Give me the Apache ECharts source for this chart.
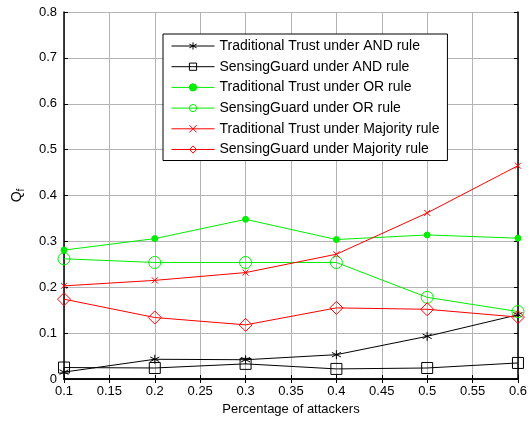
<!DOCTYPE html>
<html>
<head>
<meta charset="utf-8">
<script src="https://cdn.jsdelivr.net/npm/echarts@6/dist/echarts.min.js"></script>
<style>
  html, body { margin: 0; padding: 0; background: #fff; }
  #chart { width: 530px; height: 421px; }
</style>
</head>
<body>
<div id="chart"></div>
<script>
// attacker percentage on x
const xs = [0.1, 0.2, 0.3, 0.4, 0.5, 0.6];

// Q_f values
const ttAnd = [0.015, 0.043, 0.042, 0.053, 0.093, 0.140];
const sgAnd = [0.025, 0.024, 0.033, 0.022, 0.024, 0.035];
const ttOr  = [0.281, 0.306, 0.348, 0.304, 0.314, 0.307];
const sgOr  = [0.262, 0.254, 0.254, 0.254, 0.178, 0.147];
const ttMaj = [0.203, 0.215, 0.232, 0.272, 0.362, 0.465];
const sgMaj = [0.174, 0.134, 0.118, 0.155, 0.152, 0.135];

const names = [
  'Traditional Trust under AND rule',
  'SensingGuard under AND rule',
  'Traditional Trust under OR rule',
  'SensingGuard under OR rule',
  'Traditional Trust under Majority rule',
  'SensingGuard under Majority rule'
];
const colors = ['#000000', '#000000', '#00ee00', '#00ee00', '#ff0000', '#ff0000'];

const STAR = 'path://M0,-1L0,1M-0.87,-0.5L0.87,0.5M-0.87,0.5L0.87,-0.5';
const CROSS = 'path://M-1,-1L1,1M-1,1L1,-1';

const FONT = 'Liberation Sans, Arial, sans-serif';

function mk(i, vals, symbol, size, filled) {
  const color = colors[i];
  return {
    name: names[i],
    type: 'line',
    data: xs.map((x, k) => [x, vals[k]]),
    symbol,
    symbolSize: size,
    lineStyle: { color, width: 1 },
    itemStyle: { color: filled ? color : 'rgba(255,255,255,0)', borderColor: color, borderWidth: 1 },
    emphasis: { disabled: true },
    silent: true,
    z: 3
  };
}

const chart = echarts.init(document.getElementById('chart'), null, { renderer: 'canvas' });

const axisBase = {
  type: 'value',
  axisLine: { show: true, lineStyle: { color: '#000', width: 1.5 } },
  axisTick: { show: true, inside: true, length: 4, lineStyle: { color: '#000' } },
  axisLabel: { color: '#000', fontSize: 13, fontFamily: FONT },
  splitLine: { show: false }
};

chart.setOption({
  backgroundColor: '#fff',
  animation: false,
  grid: { left: 64, right: 8.5, top: 12, bottom: 41 },
  legend: {
    orient: 'vertical',
    left: 163,
    top: 34,
    itemWidth: 43,
    itemHeight: 9,
    itemGap: 6.7,
    padding: [5, 8, 4, 8],
    backgroundColor: '#fff',
    borderColor: '#000',
    borderWidth: 1,
    textStyle: { color: '#000', fontSize: 14, fontFamily: FONT },
    data: names.map((n, i) => ({
      name: n,
      lineStyle: { color: colors[i], width: 1 },
      itemStyle: { borderColor: colors[i], borderWidth: 1 }
    }))
  },
  xAxis: [
    Object.assign({}, axisBase, {
      min: 0.1, max: 0.6, interval: 0.05,
      name: 'Percentage of attackers',
      nameLocation: 'middle',
      nameGap: 24,
      nameTextStyle: { color: '#000', fontSize: 13, fontFamily: FONT },
      axisLabel: Object.assign({}, axisBase.axisLabel, { margin: 6 }),
      splitLine: { show: true, lineStyle: { color: '#b4b4b4', width: 1 } }
    }),
    Object.assign({}, axisBase, {
      position: 'top', min: 0.1, max: 0.6, interval: 0.05,
      axisLabel: { show: false }
    })
  ],
  yAxis: [
    Object.assign({}, axisBase, {
      min: 0, max: 0.8, interval: 0.1,
      name: '{q|Q}{f|f}',
      nameLocation: 'middle',
      nameGap: 38,
      nameTextStyle: {
        rich: {
          q: { color: '#000', fontSize: 14, fontFamily: FONT },
          f: { color: '#000', fontSize: 10, fontFamily: FONT, verticalAlign: 'bottom', padding: [8, 0, 0, 0] }
        }
      },
      axisLabel: Object.assign({}, axisBase.axisLabel, { margin: 7 }),
      splitLine: { show: true, lineStyle: { color: '#b4b4b4', width: 1 } }
    }),
    Object.assign({}, axisBase, {
      position: 'right', min: 0, max: 0.8, interval: 0.1,
      axisLabel: { show: false }
    })
  ],
  series: [
    mk(0, ttAnd, STAR, 9, true),
    mk(1, sgAnd, 'rect', 11, false),
    mk(2, ttOr, 'circle', 6, true),
    mk(3, sgOr, 'circle', 12, false),
    mk(4, ttMaj, CROSS, 6, true),
    mk(5, sgMaj, 'diamond', 13, false)
  ]
});
</script>
</body>
</html>
